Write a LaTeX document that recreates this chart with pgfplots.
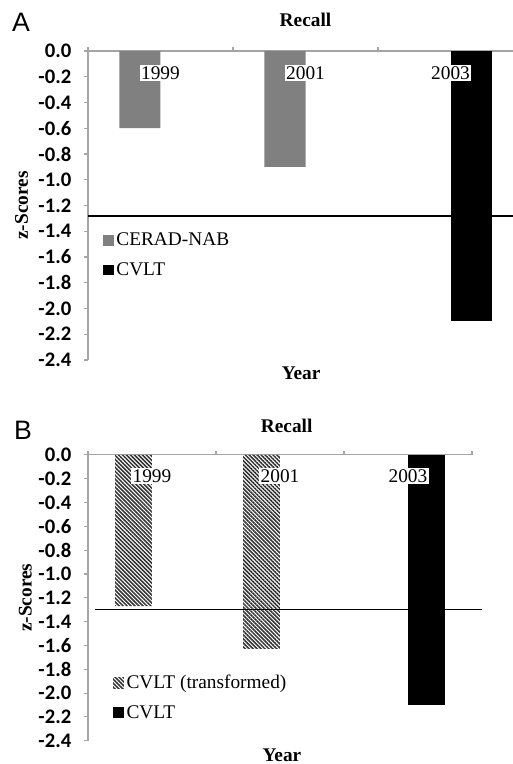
\documentclass[border=0pt]{standalone}
\usepackage{pgfplots}
\pgfplotsset{compat=1.18}
\usepackage{fontspec}
\setmainfont{Liberation Serif}
\newfontfamily\carlito{Carlito}
\newfontfamily\sansA{Liberation Sans}
\usetikzlibrary{patterns,patterns.meta}

\definecolor{bargray}{RGB}{128,128,128}
\definecolor{axgray}{RGB}{165,165,165}
\newcommand\bigf{\fontsize{14.5}{17}\selectfont}
\newcommand\tickf{\fontsize{15.5}{18}\selectfont}

\pgfplotsset{
  myaxis/.style={
    scale only axis, anchor=south west,
    xmin=-0.5, xmax=2.5, ymin=-2.4, ymax=0,
    clip=false,
    axis x line*=top, axis y line*=left,
    axis line style={-, draw=axgray, line width=0.8pt},
    xtick={-0.5,0.5,1.5,2.5}, xticklabels={},
    ytick={0,-0.2,-0.4,-0.6,-0.8,-1.0,-1.2,-1.4,-1.6,-1.8,-2.0,-2.2,-2.4},
    tick align=outside, major tick length=3pt,
    tick style={draw=axgray, line width=0.8pt},
    yticklabel style={font=\carlito\bfseries\tickf, xshift=-6pt,
      /pgf/number format/fixed, /pgf/number format/fixed zerofill,
      /pgf/number format/precision=1},
    /pgf/number format/assume math mode=true,
    title style={font=\bfseries\bigf, anchor=center},
    xlabel style={font=\bfseries\bigf, anchor=center},
    ylabel style={font=\bfseries\bigf, anchor=center},
    legend style={draw=none, fill=none, font=\bigf, inner sep=0pt,
      row sep=7pt, anchor=north west},
    legend cell align=left,
  },
  sq/.style={legend image code/.code={\path[##1, draw=none] (0pt,-4pt) rectangle (8pt,4pt);}},
}

\begin{document}
\begin{tikzpicture}
\useasboundingbox (0,0) rectangle (384pt,573pt);

% Panel A
\begin{axis}[myaxis,
  at={(66pt,303pt)}, width=326.25pt, height=231.75pt,
  title={Recall}, title style={at={(rel axis cs:0.5,1)}, yshift=17pt},
  xlabel={Year}, xlabel style={at={(rel axis cs:0.49,-0.042)}},
  ylabel={z-Scores}, ylabel style={at={(rel axis cs:-0.153,0.5)}},
  legend style={at={(rel axis cs:0.034,0.42)}},
]
\addplot[ybar, bar width=0.283, bar shift=-0.1415, fill=bargray, draw=none, sq]
  coordinates {(0,-0.6) (1,-0.9)};
\addplot[ybar, bar width=0.283, bar shift=0.1415, fill=black, draw=none, sq]
  coordinates {(2,-2.1)};
\addplot[black, line width=1.1pt, forget plot] coordinates {(-0.5,-1.28) (2.6,-1.28)};
\legend{CERAD-NAB, CVLT}
\node[fill=white, inner sep=1pt, font=\bigf] at (axis cs:0,-0.17) {1999};
\node[fill=white, inner sep=1pt, font=\bigf] at (axis cs:1,-0.17) {2001};
\node[fill=white, inner sep=1pt, font=\bigf] at (axis cs:2,-0.17) {2003};
\node[font=\sansA\fontsize{20}{22}\selectfont] at (rel axis cs:-0.154,1.094) {A};
\end{axis}

% Panel B
\begin{axis}[myaxis,
  at={(66pt,17.5pt)}, width=288pt, height=214.3pt,
  title={Recall}, title style={at={(rel axis cs:0.5,1)}, yshift=16pt, xshift=5pt},
  xlabel={Year}, xlabel style={at={(rel axis cs:0.505,-0.05)}},
  ylabel={z-Scores}, ylabel style={at={(rel axis cs:-0.163,0.5)}},
  legend style={at={(rel axis cs:0.065,0.24)}},
]
\addplot[ybar, bar width=0.289, bar shift=-0.1445,
  pattern={Lines[angle=-45,distance=2.1pt,line width=1.15pt]}, pattern color=black!80,
  draw=none, sq]
  coordinates {(0,-1.27) (1,-1.63)};
\addplot[ybar, bar width=0.289, bar shift=0.1445, fill=black, draw=none, sq]
  coordinates {(2,-2.1)};
\addplot[black, line width=1.1pt, forget plot] coordinates {(-0.445,-1.3) (2.578,-1.3)};
\legend{CVLT (transformed), CVLT}
\node[fill=white, inner sep=1pt, font=\bigf] at (axis cs:0,-0.175) {1999};
\node[fill=white, inner sep=1pt, font=\bigf] at (axis cs:1,-0.175) {2001};
\node[fill=white, inner sep=1pt, font=\bigf] at (axis cs:2,-0.175) {2003};
\node[font=\sansA\fontsize{20}{22}\selectfont] at (rel axis cs:-0.169,1.0875) {B};
\end{axis}
\end{tikzpicture}
\end{document}
